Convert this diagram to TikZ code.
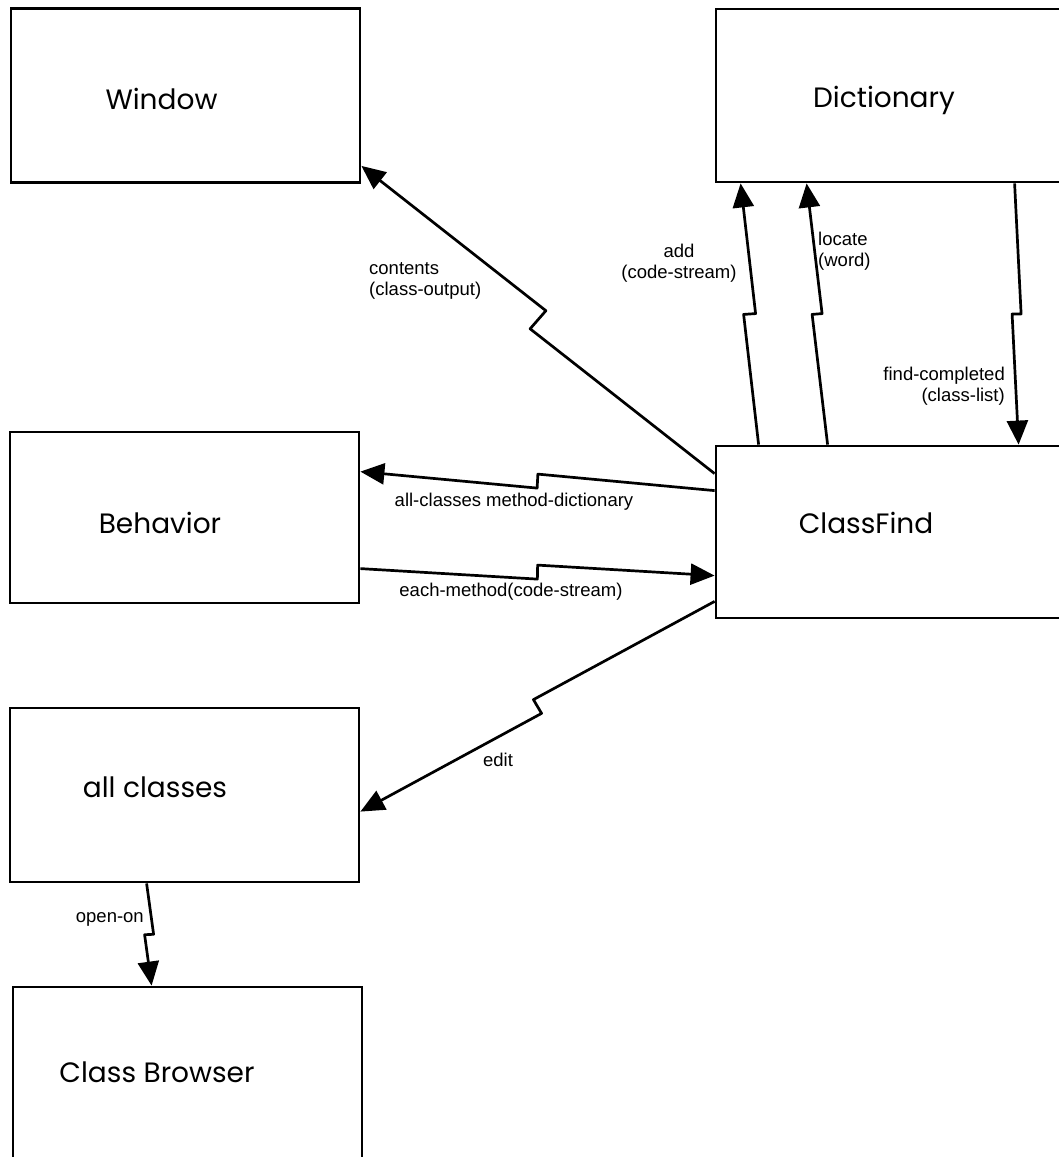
\documentclass[tikz,border=0pt]{standalone}
\usepackage{fontspec}
\setmainfont{Liberation Sans}
\newfontfamily\boxfont{Poppins}
\usetikzlibrary{arrows.meta,calc}

\tikzset{
  classbox/.style={draw,line width=2.8pt,rectangle,minimum width=349pt,minimum height=174pt,inner sep=0pt},
  widebox/.style={minimum width=364pt},
  boxlabel/.style={font=\boxfont\fontsize{28}{34}\selectfont,inner sep=0pt,anchor=base},
  msgtext/.style={font=\fontsize{18.5}{21}\selectfont,inner sep=0pt},
  msg/.style={line width=2.7pt,line join=round,-{Triangle[length=24pt,width=21pt]}},
  zig/.style={to path={-- ($(\tikztostart)!.5!(\tikztotarget)!#1!90:(\tikztotarget)$)
      -- ($(\tikztostart)!.5!(\tikztotarget)!#1!-90:(\tikztotarget)$)
      -- (\tikztotarget) \tikztonodes}}
}

\begin{document}
\begin{tikzpicture}[x=1pt,y=-1pt]
  \useasboundingbox (0,0) rectangle (1059,1157);
  \clip (0,0) rectangle (1059,1157);
  % classes
  \node[classbox] (win) at (185.5,95.5) {};
  \node[classbox,widebox,minimum height=173pt] (dict) at (898,95.5) {};
  \node[classbox,minimum height=171pt] (behav) at (184.5,517.5) {};
  \node[classbox,widebox,minimum height=172pt] (cfind) at (898,532) {};
  \node[classbox] (allcl) at (184.5,795) {};
  \node[classbox,minimum height=183pt] (browser) at (187.5,1078.5) {};
  \node[boxlabel] (win-t) at (161.5,109) {Window};
  \node[boxlabel] (dict-t) at (884,107) {Dictionary};
  \node[boxlabel] (behav-t) at (160,533) {Behavior};
  \node[boxlabel] (cfind-t) at (866,533) {ClassFind};
  \node[boxlabel] (allcl-t) at (155,797) {all classes};
  \node[boxlabel] (browser-t) at (157,1082) {Class Browser};
  % ends of the messages
  \coordinate (cont-s) at ($(cfind.north west)+(0,29)$);
  \coordinate (cont-e) at ($(win.south east)+(0,-18)$);
  \coordinate (allc-s) at ($(cfind.north west)+(0,46)$);
  \coordinate (allc-e) at ($(behav.north east)+(0,41)$);
  \coordinate (each-s) at ($(behav.north east)+(0,138)$);
  \coordinate (each-e) at ($(cfind.north west)+(0,131)$);
  \coordinate (edit-s) at ($(cfind.south west)+(0,-18)$);
  \coordinate (edit-e) at ($(allcl.north east)+(0,105)$);
  \coordinate (add-s) at ($(cfind.north west)+(44,0)$);
  \coordinate (add-e) at ($(dict.south west)+(26,0)$);
  \coordinate (loc-s) at ($(cfind.north west)+(113,0)$);
  \coordinate (loc-e) at ($(dict.south west)+(92,0)$);
  \coordinate (find-s) at ($(dict.south west)+(300,0)$);
  \coordinate (find-e) at ($(cfind.north west)+(304,0)$);
  \coordinate (open-s) at ($(allcl.south west)+(138,0)$);
  \coordinate (open-e) at ($(browser.north west)+(140,0)$);
  % messages
  \draw[msg] (cont-s) to[zig=12pt] (cont-e);
  \draw[msg] (allc-s) to[zig=-7pt] (allc-e);
  \draw[msg] (each-s) to[zig=-7pt] (each-e);
  \draw[msg] (edit-s) to[zig=-8pt] (edit-e);
  \draw[msg] (add-s) to[zig=6pt] (add-e);
  \draw[msg] (loc-s) to[zig=5pt] (loc-e);
  \draw[msg] (find-s) to[zig=4.5pt] (find-e);
  \draw[msg] (open-s) to[zig=4.5pt] (open-e);
  \node[msgtext,anchor=north west,align=left] (cont-l) at (369,262) {contents\\(class-output)};
  \node[msgtext,anchor=north,align=center] (add-l) at (679,244) {add\\(code-stream)};
  \node[msgtext,anchor=north west,align=left] (loc-l) at (818,232) {locate\\(word)};
  \node[msgtext,anchor=north east,align=right] (find-l) at (1005,367) {find-completed\\(class-list)};
  \node[msgtext,anchor=north] (allc-l) at (514,493) {all-classes method-dictionary};
  \node[msgtext,anchor=north] (each-l) at (511,583) {each-method(code-stream)};
  \node[msgtext,anchor=north] (edit-l) at (498,753) {edit};
  \node[msgtext,anchor=north east] (open-l) at (144,912) {open-on};
\end{tikzpicture}
\end{document}
